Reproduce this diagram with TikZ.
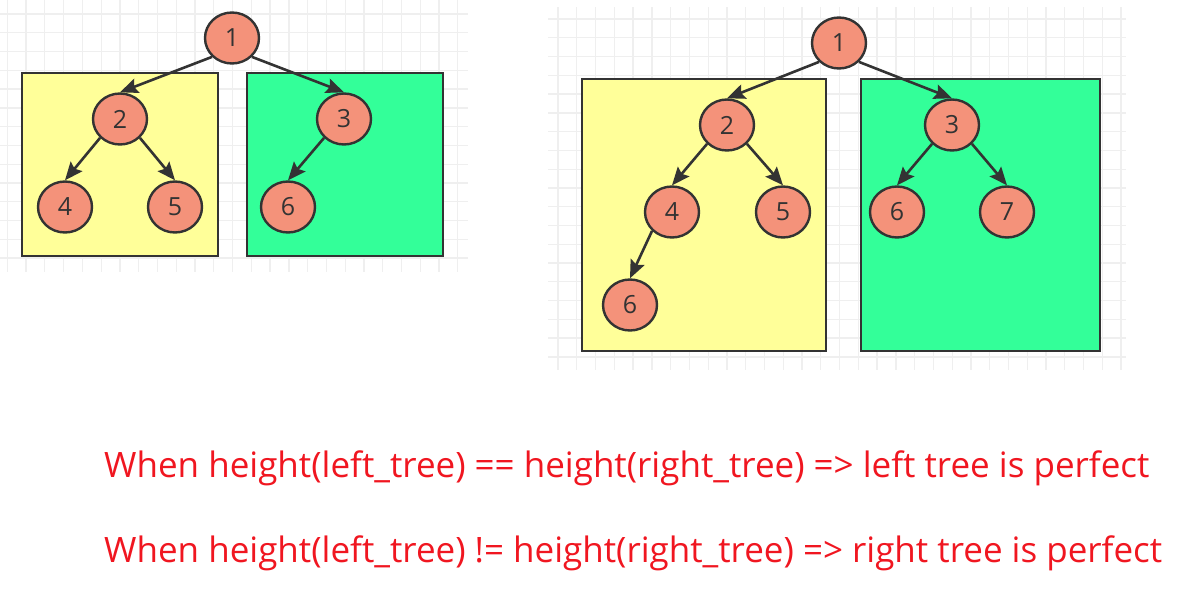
\documentclass[tikz,border=0pt]{standalone}
\usepackage{fontspec}
\setmainfont{Open Sans}
\usepackage{tikz}
\usetikzlibrary{arrows.meta, shapes.geometric}
\definecolor{nodefill}{HTML}{F4927A}
\definecolor{edgegrey}{HTML}{333333}
\definecolor{lyellow}{HTML}{FFFF99}
\definecolor{rgreen}{HTML}{33FF99}
\definecolor{gridgrey}{HTML}{EFEFEF}
\definecolor{remarkred}{RGB}{240,22,32}
\tikzstyle{tnode}=[ellipse, draw=edgegrey, line width=2.4pt, fill=nodefill, minimum width=54pt, minimum height=51pt, inner sep=0pt, text=edgegrey, font=\fontsize{25}{25}\selectfont]
\tikzstyle{link}=[draw=edgegrey, line width=2.6pt]
\tikzstyle{lpart}=[draw=edgegrey, line width=2.6pt, fill=lyellow]
\tikzstyle{rpart}=[draw=edgegrey, line width=2.6pt, fill=rgreen]
\tikzstyle{gridline}=[draw=gridgrey, line width=1.3pt]
\tikzstyle{remark}=[anchor=base west, inner sep=0pt, text=remarkred, font=\fontsize{35}{35}\selectfont]

\begin{document}
\begin{tikzpicture}[x=1pt,y=-1pt,>={Stealth[length=18pt,width=15pt,inset=3pt]}]
  \useasboundingbox (0,0) rectangle (1181,602);
  % grids behind the two trees
  \foreach \i in {0,...,24} \draw[gridline] (7.3+18.77*\i,0) -- (7.3+18.77*\i,272);
  \foreach \j in {0,...,13} \draw[gridline] (0,14+18.77*\j) -- (468,14+18.77*\j);
  \foreach \i in {0,...,30} \draw[gridline] (558+18.77*\i,7) -- (558+18.77*\i,370);
  \foreach \j in {0,...,18} \draw[gridline] (548,19+18.77*\j) -- (1126,19+18.77*\j);

  % first tree
  \draw[lpart] (22,73) rectangle (218,256);
  \draw[rpart] (247,73) rectangle (443,256);
  \node [tnode] (a1) at (232,38) {1};
  \node [tnode] (a2) at (120,119) {2};
  \node [tnode] (a3) at (344,119) {3};
  \node [tnode] (a4) at (65,207) {4};
  \node [tnode] (a5) at (175,207) {5};
  \node [tnode] (a6) at (288,207) {6};
  \draw[->, link] (a1.south west) -- (a2.north);
  \draw[->, link] (a1.south east) -- (a3.north);
  \draw[->, link] (a2.south west) -- (a4.north);
  \draw[->, link] (a2.south east) -- (a5.north);
  \draw[->, link] (a3.south west) -- (a6.north);

  % second tree
  \draw[lpart] (582,79) rectangle (826,351);
  \draw[rpart] (861,79) rectangle (1100,351);
  \node [tnode] (b1) at (839,43) {1};
  \node [tnode] (b2) at (727,125) {2};
  \node [tnode] (b3) at (952,125) {3};
  \node [tnode] (b4) at (672,212) {4};
  \node [tnode] (b5) at (783,212) {5};
  \node [tnode] (b6) at (897,212) {6};
  \node [tnode] (b7) at (1007,212) {7};
  \node [tnode] (b8) at (630,305) {6};
  \draw[->, link] (b1.south west) -- (b2.north);
  \draw[->, link] (b1.south east) -- (b3.north);
  \draw[->, link] (b2.south west) -- (b4.north);
  \draw[->, link] (b2.south east) -- (b5.north);
  \draw[->, link] (b3.south west) -- (b6.north);
  \draw[->, link] (b3.south east) -- (b7.north);
  \draw[->, link] (b4.south west) -- (b8.north);

  % the two rules
  \node [remark] (rule1) at (104,477) {When height(left\_tree) == height(right\_tree) => left tree is perfect};
  \node [remark] (rule2) at (104,562) {When height(left\_tree) != height(right\_tree) => right tree is perfect};
\end{tikzpicture}
\end{document}
